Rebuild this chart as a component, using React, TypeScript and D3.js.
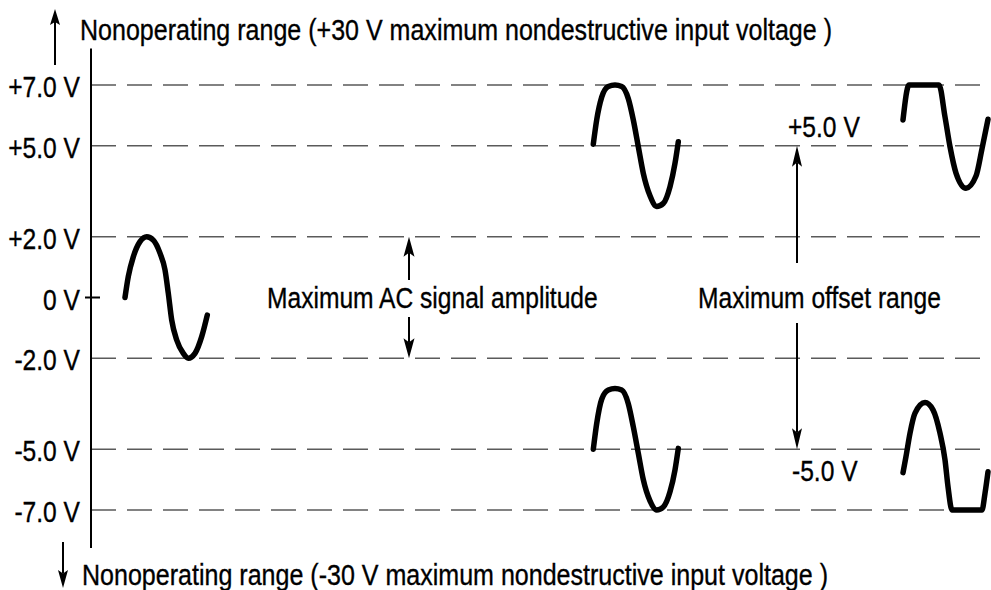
import React from "react";
import * as d3 from "d3";

const W = 991;
const H = 590;

// voltage levels with dashed reference lines
const levels = [7, 5, 2, -2, -5, -7];
const tickValues = [7, 5, 2, 0, -2, -5, -7];
const tickLabels = ["+7.0 V", "+5.0 V", "+2.0 V", "0 V", "-2.0 V", "-5.0 V", "-7.0 V"];

// waveforms: [time, volts]
const acSignal: [number, number][] = [
  [3.4, 0], [3.73, 0.69], [4.23, 1.34], [4.9, 1.84], [5.57, 2], [6.23, 1.89],
  [6.9, 1.46], [7.4, 0.91], [7.73, 0.14], [8.07, -0.74], [8.57, -1.4],
  [9.23, -1.84], [9.73, -2], [10.4, -1.84], [11.07, -1.29], [11.63, -0.58],
];
const posOffset: [number, number][] = [
  [50.23, 5.05], [50.57, 5.85], [51.07, 6.6], [51.73, 6.95], [52.4, 7], [53.07, 6.95],
  [53.73, 6.55], [54.23, 5.85], [54.73, 4.97], [55.23, 4.09], [55.9, 3.35],
  [56.57, 3], [57.23, 3.1], [57.9, 3.65], [58.4, 4.42], [58.73, 5.13],
];
const negOffset: [number, number][] = [
  [50.23, -5], [50.57, -4.15], [51.07, -3.35], [51.73, -3.05], [52.4, -3], [53.07, -3.05],
  [53.73, -3.5], [54.23, -4.26], [54.73, -5.13], [55.23, -6], [55.9, -6.7],
  [56.57, -7], [57.23, -6.9], [57.9, -6.4], [58.4, -5.68], [58.73, -4.97],
];
const posClipped: [number, number][] = [
  [81.2, 5.85], [81.8, 7], [84.8, 7], [85.4, 5.95], [85.9, 4.97], [86.5, 4.1],
  [87.5, 3.6], [88.5, 4.0], [89.1, 4.9], [89.7, 5.87],
];
const negClipped: [number, number][] = [
  [81.2, -5.77], [81.5, -5.24], [81.9, -4.47], [82.4, -3.81], [83.4, -3.46],
  [84.2, -3.7], [84.9, -4.47], [85.4, -5.35], [85.7, -6.23], [86.1, -7],
  [89.1, -7], [89.4, -6.45], [89.7, -5.74],
];
const waves = [acSignal, posOffset, negOffset, posClipped, negClipped];

// annotation arrows: time, tail volts, tip volts, head length, half width
const arrows = [
  { t: 31.8, from: 0.58, to: 2, len: 20, hw: 5.5 },
  { t: 31.8, from: -0.64, to: -2, len: 20, hw: 5.5 },
  { t: 70.6, from: 1.14, to: 5, len: 21, hw: 5 },
  { t: 70.6, from: -0.84, to: -5, len: 21, hw: 5 },
  { t: -3.6, from: 7.66, to: 9.5, len: 16, hw: 5 },
  { t: -2.8, from: -8.05, to: -9.57, len: 18, hw: 5 },
];

const x = d3.scaleLinear().domain([0, 90]).range([91, 991]);
const y = d3.scaleLinear().domain([-7, 7]).range([510, 85]);

const line = d3
  .line<[number, number]>()
  .x((d) => x(d[0]))
  .y((d) => y(d[1]))
  .curve(d3.curveMonotoneX);

const FONT = "'Liberation Sans', Arial, Helvetica, sans-serif";
const FS = 30;
const SX = 0.82;
const textStyle = { fontSize: FS, fontFamily: FONT, fill: "#000", stroke: "#000", strokeWidth: 0.35 };

const Label = ({ px, py, anchor = "start", children, len }: any) =>
  len ? (
    <text x={px} y={py} textLength={len} lengthAdjust="spacingAndGlyphs" style={textStyle}>
      {children}
    </text>
  ) : (
    <text transform={`translate(${px},${py}) scale(${SX},1)`} textAnchor={anchor} style={textStyle}>
      {children}
    </text>
  );

const Arrow = ({ a }: any) => {
  const ax = x(a.t);
  const y0 = y(a.from);
  const y1 = y(a.to);
  const dir = y1 < y0 ? 1 : -1; // head extends back toward tail
  const back = y1 + dir * a.len;
  const notch = y1 + dir * a.len * 0.8;
  return (
    <g>
      <line x1={ax} x2={ax} y1={y0} y2={notch} stroke="#000" strokeWidth={2} />
      <path d={`M${ax},${y1}L${ax - a.hw},${back}L${ax},${notch}L${ax + a.hw},${back}Z`} fill="#000" />
    </g>
  );
};

export default function App() {
  return (
    <svg width={W} height={H} style={{ position: "absolute", left: 0, top: 0, background: "#fff" }}>
      {levels.map((v) => (
        <line key={v} x1={x(0)} x2={x(90)} y1={y(v)} y2={y(v)} stroke="#5a5a5a" strokeWidth={1.6} strokeDasharray="25 11" />
      ))}
      <line x1={x(0)} x2={x(0)} y1={y(8.2)} y2={y(-8.25)} stroke="#000" strokeWidth={2} />
      <line x1={x(-0.6)} x2={x(0.9)} y1={y(0)} y2={y(0)} stroke="#000" strokeWidth={2} />
      {tickValues.map((v, i) => (
        <Label key={v} px={80} py={y(v) + 12} anchor="end">
          {tickLabels[i]}
        </Label>
      ))}
      {waves.map((w, i) => (
        <path key={i} d={line(w) || ""} fill="none" stroke="#000" strokeWidth={5.5} strokeLinecap="round" strokeLinejoin="round" />
      ))}
      {arrows.map((a, i) => (
        <Arrow key={i} a={a} />
      ))}
      <Label px={267} py={y(0) + 10}>Maximum AC signal amplitude</Label>
      <Label px={698} py={y(0) + 10}>Maximum offset range</Label>
      <Label px={788} py={y(5) - 9}>+5.0 V</Label>
      <Label px={792} py={y(-5) + 32}>-5.0 V</Label>
      <Label px={80} py={40} len={752}>Nonoperating range (+30 V maximum nondestructive input voltage )</Label>
      <Label px={82} py={585} len={746}>Nonoperating range (-30 V maximum nondestructive input voltage )</Label>
    </svg>
  );
}
